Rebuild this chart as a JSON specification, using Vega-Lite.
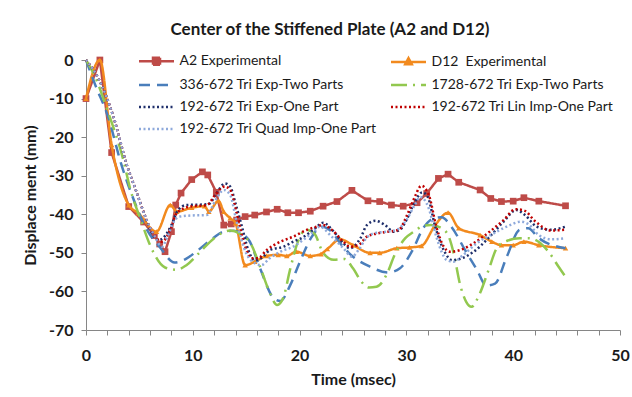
{
  "$schema": "https://vega.github.io/schema/vega-lite/v6.json",
  "autosize": {"type": "none"},
  "width": 534,
  "height": 270,
  "padding": {"left": 86, "top": 60, "right": 12, "bottom": 67},
  "background": "white",
  "title": {
    "text": "Center of the Stiffened Plate (A2 and D12)",
    "font": "Lato",
    "fontSize": 17,
    "fontWeight": "bold",
    "color": "#1a1a1a",
    "anchor": "middle",
    "dx": -23,
    "offset": 13
  },
  "config": {
    "font": "Lato",
    "view": {"stroke": null},
    "axis": {
      "grid": false,
      "domainColor": "#868686",
      "tickColor": "#868686",
      "tickSize": 5,
      "labelFont": "Lato",
      "labelFontSize": 16,
      "labelFontWeight": "bold",
      "labelColor": "#1a1a1a",
      "titleFont": "Lato",
      "titleFontSize": 16,
      "titleFontWeight": "bold",
      "titleColor": "#1a1a1a"
    },
    "legend": {
      "labelFont": "Lato",
      "labelFontSize": 14,
      "labelColor": "#1a1a1a",
      "labelLimit": 300
    }
  },
  "data": {
    "values": [
      {"series": "A2 Experimental", "t": 0, "d": -10},
      {"series": "A2 Experimental", "t": 1.3, "d": 0},
      {"series": "A2 Experimental", "t": 2.4, "d": -24},
      {"series": "A2 Experimental", "t": 4.0, "d": -38},
      {"series": "A2 Experimental", "t": 5.4, "d": -42},
      {"series": "A2 Experimental", "t": 6.4, "d": -45.5},
      {"series": "A2 Experimental", "t": 6.9, "d": -47.7},
      {"series": "A2 Experimental", "t": 7.4, "d": -49.7},
      {"series": "A2 Experimental", "t": 8.0, "d": -44.5},
      {"series": "A2 Experimental", "t": 8.4, "d": -37.6},
      {"series": "A2 Experimental", "t": 8.9, "d": -34.5},
      {"series": "A2 Experimental", "t": 9.9, "d": -31},
      {"series": "A2 Experimental", "t": 10.9, "d": -29},
      {"series": "A2 Experimental", "t": 11.4, "d": -29.8},
      {"series": "A2 Experimental", "t": 12.2, "d": -34.3},
      {"series": "A2 Experimental", "t": 12.9, "d": -42.8},
      {"series": "A2 Experimental", "t": 13.6, "d": -42.5},
      {"series": "A2 Experimental", "t": 14.1, "d": -41.5},
      {"series": "A2 Experimental", "t": 14.9, "d": -40.6},
      {"series": "A2 Experimental", "t": 15.8, "d": -40.2},
      {"series": "A2 Experimental", "t": 16.9, "d": -39.4},
      {"series": "A2 Experimental", "t": 17.9, "d": -38.7},
      {"series": "A2 Experimental", "t": 18.9, "d": -39.6},
      {"series": "A2 Experimental", "t": 19.9, "d": -39.6},
      {"series": "A2 Experimental", "t": 21.0, "d": -39.2},
      {"series": "A2 Experimental", "t": 22.2, "d": -37.9},
      {"series": "A2 Experimental", "t": 23.5, "d": -36.7},
      {"series": "A2 Experimental", "t": 24.9, "d": -33.8},
      {"series": "A2 Experimental", "t": 26.4, "d": -36.5},
      {"series": "A2 Experimental", "t": 27.5, "d": -36.7},
      {"series": "A2 Experimental", "t": 28.6, "d": -37.6},
      {"series": "A2 Experimental", "t": 29.7, "d": -37.9},
      {"series": "A2 Experimental", "t": 31.0, "d": -37},
      {"series": "A2 Experimental", "t": 31.9, "d": -34.6},
      {"series": "A2 Experimental", "t": 33.0, "d": -30.7},
      {"series": "A2 Experimental", "t": 33.9, "d": -29.6},
      {"series": "A2 Experimental", "t": 34.9, "d": -31.7},
      {"series": "A2 Experimental", "t": 36.9, "d": -33.7},
      {"series": "A2 Experimental", "t": 37.9, "d": -35.9},
      {"series": "A2 Experimental", "t": 38.9, "d": -36.7},
      {"series": "A2 Experimental", "t": 40.0, "d": -36.6},
      {"series": "A2 Experimental", "t": 41.0, "d": -35.7},
      {"series": "A2 Experimental", "t": 42.4, "d": -36.6},
      {"series": "A2 Experimental", "t": 44.9, "d": -37.8},

      {"series": "D12\u00a0 Experimental", "t": 0, "d": -10},
      {"series": "D12\u00a0 Experimental", "t": 1.3, "d": 0},
      {"series": "D12\u00a0 Experimental", "t": 2.4, "d": -22},
      {"series": "D12\u00a0 Experimental", "t": 4.0, "d": -37.6},
      {"series": "D12\u00a0 Experimental", "t": 4.9, "d": -39.7},
      {"series": "D12\u00a0 Experimental", "t": 6.6, "d": -44.5},
      {"series": "D12\u00a0 Experimental", "t": 7.9, "d": -37.6},
      {"series": "D12\u00a0 Experimental", "t": 8.5, "d": -39.3},
      {"series": "D12\u00a0 Experimental", "t": 9.9, "d": -38.3},
      {"series": "D12\u00a0 Experimental", "t": 11.1, "d": -37.9},
      {"series": "D12\u00a0 Experimental", "t": 11.5, "d": -39.3},
      {"series": "D12\u00a0 Experimental", "t": 12.4, "d": -36.5},
      {"series": "D12\u00a0 Experimental", "t": 12.9, "d": -39.3},
      {"series": "D12\u00a0 Experimental", "t": 13.5, "d": -41},
      {"series": "D12\u00a0 Experimental", "t": 14.0, "d": -42.3},
      {"series": "D12\u00a0 Experimental", "t": 14.9, "d": -53.2},
      {"series": "D12\u00a0 Experimental", "t": 15.8, "d": -52.3},
      {"series": "D12\u00a0 Experimental", "t": 16.9, "d": -50.8},
      {"series": "D12\u00a0 Experimental", "t": 18.0, "d": -50.5},
      {"series": "D12\u00a0 Experimental", "t": 18.8, "d": -50.8},
      {"series": "D12\u00a0 Experimental", "t": 19.7, "d": -49.7},
      {"series": "D12\u00a0 Experimental", "t": 21.0, "d": -50.8},
      {"series": "D12\u00a0 Experimental", "t": 22.0, "d": -50.3},
      {"series": "D12\u00a0 Experimental", "t": 22.6, "d": -49},
      {"series": "D12\u00a0 Experimental", "t": 23.8, "d": -46.5},
      {"series": "D12\u00a0 Experimental", "t": 25.0, "d": -48},
      {"series": "D12\u00a0 Experimental", "t": 26.6, "d": -50},
      {"series": "D12\u00a0 Experimental", "t": 27.5, "d": -50},
      {"series": "D12\u00a0 Experimental", "t": 29.1, "d": -48.8},
      {"series": "D12\u00a0 Experimental", "t": 30.3, "d": -48.6},
      {"series": "D12\u00a0 Experimental", "t": 31.4, "d": -48.2},
      {"series": "D12\u00a0 Experimental", "t": 32.7, "d": -42.8},
      {"series": "D12\u00a0 Experimental", "t": 33.9, "d": -39.6},
      {"series": "D12\u00a0 Experimental", "t": 34.9, "d": -43.6},
      {"series": "D12\u00a0 Experimental", "t": 36.9, "d": -45.4},
      {"series": "D12\u00a0 Experimental", "t": 38.0, "d": -47.1},
      {"series": "D12\u00a0 Experimental", "t": 38.9, "d": -48},
      {"series": "D12\u00a0 Experimental", "t": 40.0, "d": -48},
      {"series": "D12\u00a0 Experimental", "t": 41.0, "d": -47.1},
      {"series": "D12\u00a0 Experimental", "t": 42.4, "d": -48},
      {"series": "D12\u00a0 Experimental", "t": 44.9, "d": -48.8},

      {"series": "336-672 Tri Exp-Two Parts", "t": 0, "d": 0},
      {"series": "336-672 Tri Exp-Two Parts", "t": 0.8, "d": -6},
      {"series": "336-672 Tri Exp-Two Parts", "t": 2.1, "d": -15},
      {"series": "336-672 Tri Exp-Two Parts", "t": 3.3, "d": -27},
      {"series": "336-672 Tri Exp-Two Parts", "t": 4.3, "d": -35},
      {"series": "336-672 Tri Exp-Two Parts", "t": 5.7, "d": -44},
      {"series": "336-672 Tri Exp-Two Parts", "t": 6.9, "d": -48.5},
      {"series": "336-672 Tri Exp-Two Parts", "t": 8.3, "d": -52.5},
      {"series": "336-672 Tri Exp-Two Parts", "t": 9.4, "d": -51.5},
      {"series": "336-672 Tri Exp-Two Parts", "t": 10.4, "d": -49.5},
      {"series": "336-672 Tri Exp-Two Parts", "t": 11.9, "d": -46.2},
      {"series": "336-672 Tri Exp-Two Parts", "t": 12.9, "d": -44.5},
      {"series": "336-672 Tri Exp-Two Parts", "t": 13.8, "d": -44.3},
      {"series": "336-672 Tri Exp-Two Parts", "t": 15.2, "d": -46.5},
      {"series": "336-672 Tri Exp-Two Parts", "t": 16.3, "d": -54},
      {"series": "336-672 Tri Exp-Two Parts", "t": 17.5, "d": -61.5},
      {"series": "336-672 Tri Exp-Two Parts", "t": 18.2, "d": -62.5},
      {"series": "336-672 Tri Exp-Two Parts", "t": 19.1, "d": -58.5},
      {"series": "336-672 Tri Exp-Two Parts", "t": 20.0, "d": -52.5},
      {"series": "336-672 Tri Exp-Two Parts", "t": 21.1, "d": -46},
      {"series": "336-672 Tri Exp-Two Parts", "t": 22.1, "d": -43.2},
      {"series": "336-672 Tri Exp-Two Parts", "t": 23.0, "d": -44.5},
      {"series": "336-672 Tri Exp-Two Parts", "t": 23.8, "d": -47.5},
      {"series": "336-672 Tri Exp-Two Parts", "t": 24.6, "d": -50},
      {"series": "336-672 Tri Exp-Two Parts", "t": 26.6, "d": -53.6},
      {"series": "336-672 Tri Exp-Two Parts", "t": 28.3, "d": -55.1},
      {"series": "336-672 Tri Exp-Two Parts", "t": 29.4, "d": -54},
      {"series": "336-672 Tri Exp-Two Parts", "t": 30.5, "d": -49.7},
      {"series": "336-672 Tri Exp-Two Parts", "t": 31.6, "d": -43.5},
      {"series": "336-672 Tri Exp-Two Parts", "t": 32.6, "d": -41},
      {"series": "336-672 Tri Exp-Two Parts", "t": 33.3, "d": -40.8},
      {"series": "336-672 Tri Exp-Two Parts", "t": 34.2, "d": -43.2},
      {"series": "336-672 Tri Exp-Two Parts", "t": 35.5, "d": -49.3},
      {"series": "336-672 Tri Exp-Two Parts", "t": 36.6, "d": -54.4},
      {"series": "336-672 Tri Exp-Two Parts", "t": 37.5, "d": -58.5},
      {"series": "336-672 Tri Exp-Two Parts", "t": 38.3, "d": -58},
      {"series": "336-672 Tri Exp-Two Parts", "t": 39.4, "d": -51},
      {"series": "336-672 Tri Exp-Two Parts", "t": 40.6, "d": -44},
      {"series": "336-672 Tri Exp-Two Parts", "t": 41.4, "d": -43.6},
      {"series": "336-672 Tri Exp-Two Parts", "t": 42.4, "d": -46.2},
      {"series": "336-672 Tri Exp-Two Parts", "t": 44.9, "d": -48.8},

      {"series": "1728-672 Tri Exp-Two Parts", "t": 0, "d": 0},
      {"series": "1728-672 Tri Exp-Two Parts", "t": 0.8, "d": -4},
      {"series": "1728-672 Tri Exp-Two Parts", "t": 2.0, "d": -13},
      {"series": "1728-672 Tri Exp-Two Parts", "t": 3.5, "d": -26},
      {"series": "1728-672 Tri Exp-Two Parts", "t": 4.1, "d": -33},
      {"series": "1728-672 Tri Exp-Two Parts", "t": 5.2, "d": -42},
      {"series": "1728-672 Tri Exp-Two Parts", "t": 6.0, "d": -48},
      {"series": "1728-672 Tri Exp-Two Parts", "t": 7.4, "d": -53.8},
      {"series": "1728-672 Tri Exp-Two Parts", "t": 8.5, "d": -54.4},
      {"series": "1728-672 Tri Exp-Two Parts", "t": 9.4, "d": -53.2},
      {"series": "1728-672 Tri Exp-Two Parts", "t": 10.7, "d": -49.7},
      {"series": "1728-672 Tri Exp-Two Parts", "t": 12.0, "d": -46.2},
      {"series": "1728-672 Tri Exp-Two Parts", "t": 13.5, "d": -44.2},
      {"series": "1728-672 Tri Exp-Two Parts", "t": 14.4, "d": -45},
      {"series": "1728-672 Tri Exp-Two Parts", "t": 15.5, "d": -48},
      {"series": "1728-672 Tri Exp-Two Parts", "t": 16.3, "d": -53.6},
      {"series": "1728-672 Tri Exp-Two Parts", "t": 17.1, "d": -59.6},
      {"series": "1728-672 Tri Exp-Two Parts", "t": 17.9, "d": -63.5},
      {"series": "1728-672 Tri Exp-Two Parts", "t": 18.5, "d": -61.4},
      {"series": "1728-672 Tri Exp-Two Parts", "t": 19.1, "d": -54.4},
      {"series": "1728-672 Tri Exp-Two Parts", "t": 19.9, "d": -46.7},
      {"series": "1728-672 Tri Exp-Two Parts", "t": 20.6, "d": -44},
      {"series": "1728-672 Tri Exp-Two Parts", "t": 21.4, "d": -45.1},
      {"series": "1728-672 Tri Exp-Two Parts", "t": 22.2, "d": -50},
      {"series": "1728-672 Tri Exp-Two Parts", "t": 23.2, "d": -51.8},
      {"series": "1728-672 Tri Exp-Two Parts", "t": 24.2, "d": -51.6},
      {"series": "1728-672 Tri Exp-Two Parts", "t": 25.0, "d": -54},
      {"series": "1728-672 Tri Exp-Two Parts", "t": 25.8, "d": -57.5},
      {"series": "1728-672 Tri Exp-Two Parts", "t": 26.5, "d": -59},
      {"series": "1728-672 Tri Exp-Two Parts", "t": 27.2, "d": -58.8},
      {"series": "1728-672 Tri Exp-Two Parts", "t": 28.2, "d": -55.3},
      {"series": "1728-672 Tri Exp-Two Parts", "t": 28.9, "d": -50.5},
      {"series": "1728-672 Tri Exp-Two Parts", "t": 29.9, "d": -46.2},
      {"series": "1728-672 Tri Exp-Two Parts", "t": 30.7, "d": -44.5},
      {"series": "1728-672 Tri Exp-Two Parts", "t": 31.6, "d": -43},
      {"series": "1728-672 Tri Exp-Two Parts", "t": 32.3, "d": -42.8},
      {"series": "1728-672 Tri Exp-Two Parts", "t": 33.3, "d": -43.6},
      {"series": "1728-672 Tri Exp-Two Parts", "t": 34.0, "d": -46},
      {"series": "1728-672 Tri Exp-Two Parts", "t": 34.5, "d": -51},
      {"series": "1728-672 Tri Exp-Two Parts", "t": 35.0, "d": -57.9},
      {"series": "1728-672 Tri Exp-Two Parts", "t": 35.6, "d": -62.7},
      {"series": "1728-672 Tri Exp-Two Parts", "t": 36.1, "d": -64},
      {"series": "1728-672 Tri Exp-Two Parts", "t": 36.8, "d": -61},
      {"series": "1728-672 Tri Exp-Two Parts", "t": 37.7, "d": -54.4},
      {"series": "1728-672 Tri Exp-Two Parts", "t": 38.5, "d": -48.6},
      {"series": "1728-672 Tri Exp-Two Parts", "t": 39.5, "d": -46.8},
      {"series": "1728-672 Tri Exp-Two Parts", "t": 40.6, "d": -46.2},
      {"series": "1728-672 Tri Exp-Two Parts", "t": 41.5, "d": -46.2},
      {"series": "1728-672 Tri Exp-Two Parts", "t": 42.3, "d": -47},
      {"series": "1728-672 Tri Exp-Two Parts", "t": 43.3, "d": -49.7},
      {"series": "1728-672 Tri Exp-Two Parts", "t": 44.3, "d": -53.8},
      {"series": "1728-672 Tri Exp-Two Parts", "t": 44.9, "d": -56.2},

      {"series": "192-672 Tri Exp-One Part", "t": 0, "d": 0},
      {"series": "192-672 Tri Exp-One Part", "t": 1.2, "d": -5},
      {"series": "192-672 Tri Exp-One Part", "t": 2.6, "d": -15},
      {"series": "192-672 Tri Exp-One Part", "t": 3.8, "d": -27},
      {"series": "192-672 Tri Exp-One Part", "t": 4.7, "d": -34},
      {"series": "192-672 Tri Exp-One Part", "t": 5.5, "d": -40.2},
      {"series": "192-672 Tri Exp-One Part", "t": 6.1, "d": -44.5},
      {"series": "192-672 Tri Exp-One Part", "t": 6.8, "d": -46.7},
      {"series": "192-672 Tri Exp-One Part", "t": 7.2, "d": -46.2},
      {"series": "192-672 Tri Exp-One Part", "t": 8.0, "d": -42.8},
      {"series": "192-672 Tri Exp-One Part", "t": 8.6, "d": -39},
      {"series": "192-672 Tri Exp-One Part", "t": 9.4, "d": -37.6},
      {"series": "192-672 Tri Exp-One Part", "t": 10.7, "d": -37.5},
      {"series": "192-672 Tri Exp-One Part", "t": 11.5, "d": -37.3},
      {"series": "192-672 Tri Exp-One Part", "t": 12.3, "d": -34.2},
      {"series": "192-672 Tri Exp-One Part", "t": 13.0, "d": -32},
      {"series": "192-672 Tri Exp-One Part", "t": 13.5, "d": -32.8},
      {"series": "192-672 Tri Exp-One Part", "t": 14.0, "d": -37.2},
      {"series": "192-672 Tri Exp-One Part", "t": 14.6, "d": -43.2},
      {"series": "192-672 Tri Exp-One Part", "t": 15.2, "d": -49.3},
      {"series": "192-672 Tri Exp-One Part", "t": 15.8, "d": -51.9},
      {"series": "192-672 Tri Exp-One Part", "t": 16.6, "d": -51},
      {"series": "192-672 Tri Exp-One Part", "t": 17.2, "d": -49.3},
      {"series": "192-672 Tri Exp-One Part", "t": 18.5, "d": -48.4},
      {"series": "192-672 Tri Exp-One Part", "t": 19.4, "d": -47.1},
      {"series": "192-672 Tri Exp-One Part", "t": 20.3, "d": -46},
      {"series": "192-672 Tri Exp-One Part", "t": 21.3, "d": -44},
      {"series": "192-672 Tri Exp-One Part", "t": 22.2, "d": -42.2},
      {"series": "192-672 Tri Exp-One Part", "t": 23.2, "d": -44.5},
      {"series": "192-672 Tri Exp-One Part", "t": 24.1, "d": -47.5},
      {"series": "192-672 Tri Exp-One Part", "t": 24.7, "d": -48.8},
      {"series": "192-672 Tri Exp-One Part", "t": 25.7, "d": -46.2},
      {"series": "192-672 Tri Exp-One Part", "t": 26.3, "d": -42.8},
      {"series": "192-672 Tri Exp-One Part", "t": 27.1, "d": -41.7},
      {"series": "192-672 Tri Exp-One Part", "t": 28.0, "d": -42.8},
      {"series": "192-672 Tri Exp-One Part", "t": 28.8, "d": -44.5},
      {"series": "192-672 Tri Exp-One Part", "t": 29.4, "d": -44},
      {"series": "192-672 Tri Exp-One Part", "t": 30.0, "d": -41.5},
      {"series": "192-672 Tri Exp-One Part", "t": 30.8, "d": -36.7},
      {"series": "192-672 Tri Exp-One Part", "t": 31.5, "d": -34.3},
      {"series": "192-672 Tri Exp-One Part", "t": 32.0, "d": -35.5},
      {"series": "192-672 Tri Exp-One Part", "t": 32.7, "d": -43.2},
      {"series": "192-672 Tri Exp-One Part", "t": 33.5, "d": -49.3},
      {"series": "192-672 Tri Exp-One Part", "t": 34.3, "d": -51.9},
      {"series": "192-672 Tri Exp-One Part", "t": 35.2, "d": -51.4},
      {"series": "192-672 Tri Exp-One Part", "t": 36.3, "d": -49.7},
      {"series": "192-672 Tri Exp-One Part", "t": 37.8, "d": -45.8},
      {"series": "192-672 Tri Exp-One Part", "t": 39.1, "d": -41.9},
      {"series": "192-672 Tri Exp-One Part", "t": 40.3, "d": -38.9},
      {"series": "192-672 Tri Exp-One Part", "t": 41.1, "d": -40.2},
      {"series": "192-672 Tri Exp-One Part", "t": 42.2, "d": -43.2},
      {"series": "192-672 Tri Exp-One Part", "t": 43.5, "d": -44},
      {"series": "192-672 Tri Exp-One Part", "t": 44.9, "d": -43.2},

      {"series": "192-672 Tri Lin Imp-One Part", "t": 0, "d": 0},
      {"series": "192-672 Tri Lin Imp-One Part", "t": 1.2, "d": -5},
      {"series": "192-672 Tri Lin Imp-One Part", "t": 2.6, "d": -15},
      {"series": "192-672 Tri Lin Imp-One Part", "t": 3.8, "d": -27},
      {"series": "192-672 Tri Lin Imp-One Part", "t": 4.7, "d": -34},
      {"series": "192-672 Tri Lin Imp-One Part", "t": 5.6, "d": -41},
      {"series": "192-672 Tri Lin Imp-One Part", "t": 6.5, "d": -45.8},
      {"series": "192-672 Tri Lin Imp-One Part", "t": 7.1, "d": -47.1},
      {"series": "192-672 Tri Lin Imp-One Part", "t": 7.9, "d": -44},
      {"series": "192-672 Tri Lin Imp-One Part", "t": 8.5, "d": -39.7},
      {"series": "192-672 Tri Lin Imp-One Part", "t": 9.7, "d": -38},
      {"series": "192-672 Tri Lin Imp-One Part", "t": 11.3, "d": -37.6},
      {"series": "192-672 Tri Lin Imp-One Part", "t": 12.2, "d": -34.6},
      {"series": "192-672 Tri Lin Imp-One Part", "t": 13.0, "d": -32.8},
      {"series": "192-672 Tri Lin Imp-One Part", "t": 13.5, "d": -33.7},
      {"series": "192-672 Tri Lin Imp-One Part", "t": 14.1, "d": -39.7},
      {"series": "192-672 Tri Lin Imp-One Part", "t": 14.9, "d": -48.4},
      {"series": "192-672 Tri Lin Imp-One Part", "t": 15.5, "d": -51.4},
      {"series": "192-672 Tri Lin Imp-One Part", "t": 16.1, "d": -51.4},
      {"series": "192-672 Tri Lin Imp-One Part", "t": 16.9, "d": -49.3},
      {"series": "192-672 Tri Lin Imp-One Part", "t": 18.2, "d": -47.1},
      {"series": "192-672 Tri Lin Imp-One Part", "t": 19.4, "d": -45.8},
      {"series": "192-672 Tri Lin Imp-One Part", "t": 20.7, "d": -44},
      {"series": "192-672 Tri Lin Imp-One Part", "t": 21.4, "d": -43.4},
      {"series": "192-672 Tri Lin Imp-One Part", "t": 22.2, "d": -42.8},
      {"series": "192-672 Tri Lin Imp-One Part", "t": 23.0, "d": -44},
      {"series": "192-672 Tri Lin Imp-One Part", "t": 24.1, "d": -47.1},
      {"series": "192-672 Tri Lin Imp-One Part", "t": 24.7, "d": -48.4},
      {"series": "192-672 Tri Lin Imp-One Part", "t": 25.5, "d": -48},
      {"series": "192-672 Tri Lin Imp-One Part", "t": 26.3, "d": -45.8},
      {"series": "192-672 Tri Lin Imp-One Part", "t": 27.2, "d": -45},
      {"series": "192-672 Tri Lin Imp-One Part", "t": 28.3, "d": -44.5},
      {"series": "192-672 Tri Lin Imp-One Part", "t": 29.3, "d": -44},
      {"series": "192-672 Tri Lin Imp-One Part", "t": 30.0, "d": -40.6},
      {"series": "192-672 Tri Lin Imp-One Part", "t": 30.8, "d": -35.4},
      {"series": "192-672 Tri Lin Imp-One Part", "t": 31.4, "d": -32.6},
      {"series": "192-672 Tri Lin Imp-One Part", "t": 32.1, "d": -35},
      {"series": "192-672 Tri Lin Imp-One Part", "t": 32.8, "d": -43.2},
      {"series": "192-672 Tri Lin Imp-One Part", "t": 33.5, "d": -48.4},
      {"series": "192-672 Tri Lin Imp-One Part", "t": 34.1, "d": -49.7},
      {"series": "192-672 Tri Lin Imp-One Part", "t": 35.0, "d": -49.3},
      {"series": "192-672 Tri Lin Imp-One Part", "t": 36.3, "d": -47.5},
      {"series": "192-672 Tri Lin Imp-One Part", "t": 37.8, "d": -44.5},
      {"series": "192-672 Tri Lin Imp-One Part", "t": 39.1, "d": -41.5},
      {"series": "192-672 Tri Lin Imp-One Part", "t": 40.2, "d": -38.7},
      {"series": "192-672 Tri Lin Imp-One Part", "t": 41.0, "d": -39},
      {"series": "192-672 Tri Lin Imp-One Part", "t": 42.1, "d": -41.9},
      {"series": "192-672 Tri Lin Imp-One Part", "t": 43.5, "d": -44.2},
      {"series": "192-672 Tri Lin Imp-One Part", "t": 44.9, "d": -44},

      {"series": "192-672 Tri Quad Imp-One Part", "t": 0, "d": 0},
      {"series": "192-672 Tri Quad Imp-One Part", "t": 1.2, "d": -5},
      {"series": "192-672 Tri Quad Imp-One Part", "t": 2.6, "d": -15},
      {"series": "192-672 Tri Quad Imp-One Part", "t": 3.8, "d": -27},
      {"series": "192-672 Tri Quad Imp-One Part", "t": 4.7, "d": -34},
      {"series": "192-672 Tri Quad Imp-One Part", "t": 5.6, "d": -41},
      {"series": "192-672 Tri Quad Imp-One Part", "t": 6.5, "d": -46},
      {"series": "192-672 Tri Quad Imp-One Part", "t": 7.1, "d": -48.4},
      {"series": "192-672 Tri Quad Imp-One Part", "t": 7.6, "d": -46},
      {"series": "192-672 Tri Quad Imp-One Part", "t": 8.2, "d": -42},
      {"series": "192-672 Tri Quad Imp-One Part", "t": 8.8, "d": -40.6},
      {"series": "192-672 Tri Quad Imp-One Part", "t": 10.0, "d": -40.3},
      {"series": "192-672 Tri Quad Imp-One Part", "t": 11.3, "d": -40.2},
      {"series": "192-672 Tri Quad Imp-One Part", "t": 12.2, "d": -36},
      {"series": "192-672 Tri Quad Imp-One Part", "t": 12.9, "d": -33.7},
      {"series": "192-672 Tri Quad Imp-One Part", "t": 13.5, "d": -35},
      {"series": "192-672 Tri Quad Imp-One Part", "t": 14.1, "d": -41.9},
      {"series": "192-672 Tri Quad Imp-One Part", "t": 15.0, "d": -50.1},
      {"series": "192-672 Tri Quad Imp-One Part", "t": 15.8, "d": -52.7},
      {"series": "192-672 Tri Quad Imp-One Part", "t": 16.4, "d": -53.2},
      {"series": "192-672 Tri Quad Imp-One Part", "t": 17.2, "d": -51.4},
      {"series": "192-672 Tri Quad Imp-One Part", "t": 18.2, "d": -49.7},
      {"series": "192-672 Tri Quad Imp-One Part", "t": 19.4, "d": -48.4},
      {"series": "192-672 Tri Quad Imp-One Part", "t": 20.4, "d": -46.5},
      {"series": "192-672 Tri Quad Imp-One Part", "t": 21.3, "d": -44.5},
      {"series": "192-672 Tri Quad Imp-One Part", "t": 21.9, "d": -43.2},
      {"series": "192-672 Tri Quad Imp-One Part", "t": 23.0, "d": -45.8},
      {"series": "192-672 Tri Quad Imp-One Part", "t": 24.1, "d": -48.8},
      {"series": "192-672 Tri Quad Imp-One Part", "t": 24.9, "d": -51},
      {"series": "192-672 Tri Quad Imp-One Part", "t": 25.5, "d": -49.3},
      {"series": "192-672 Tri Quad Imp-One Part", "t": 26.3, "d": -46},
      {"series": "192-672 Tri Quad Imp-One Part", "t": 27.2, "d": -44.8},
      {"series": "192-672 Tri Quad Imp-One Part", "t": 28.2, "d": -44.5},
      {"series": "192-672 Tri Quad Imp-One Part", "t": 29.1, "d": -44},
      {"series": "192-672 Tri Quad Imp-One Part", "t": 30.0, "d": -41.5},
      {"series": "192-672 Tri Quad Imp-One Part", "t": 30.8, "d": -37.5},
      {"series": "192-672 Tri Quad Imp-One Part", "t": 31.3, "d": -35.5},
      {"series": "192-672 Tri Quad Imp-One Part", "t": 32.1, "d": -38.5},
      {"series": "192-672 Tri Quad Imp-One Part", "t": 32.8, "d": -45.8},
      {"series": "192-672 Tri Quad Imp-One Part", "t": 33.8, "d": -51.9},
      {"series": "192-672 Tri Quad Imp-One Part", "t": 34.4, "d": -52.3},
      {"series": "192-672 Tri Quad Imp-One Part", "t": 35.3, "d": -50.6},
      {"series": "192-672 Tri Quad Imp-One Part", "t": 36.6, "d": -47.5},
      {"series": "192-672 Tri Quad Imp-One Part", "t": 38.2, "d": -44.9},
      {"series": "192-672 Tri Quad Imp-One Part", "t": 39.7, "d": -42.8},
      {"series": "192-672 Tri Quad Imp-One Part", "t": 40.7, "d": -41.9},
      {"series": "192-672 Tri Quad Imp-One Part", "t": 41.4, "d": -42.5},
      {"series": "192-672 Tri Quad Imp-One Part", "t": 42.4, "d": -45.4},
      {"series": "192-672 Tri Quad Imp-One Part", "t": 43.6, "d": -46.5},
      {"series": "192-672 Tri Quad Imp-One Part", "t": 44.9, "d": -46.2}
    ]
  },
  "encoding": {
    "x": {
      "field": "t",
      "type": "quantitative",
      "title": "Time (msec)",
      "scale": {"domain": [0, 50], "nice": false, "zero": false},
      "axis": {
        "values": [0, 2, 4, 6, 8, 10, 12, 14, 16, 18, 20, 22, 24, 26, 28, 30, 32, 34, 36, 38, 40, 42, 44, 46, 48, 50],
        "labelExpr": "datum.value % 10 === 0 ? datum.value + '' : ''",
        "labelPadding": 12,
        "labelFlush": false,
        "labelOverlap": false,
        "titlePadding": 8
      }
    },
    "y": {
      "field": "d",
      "type": "quantitative",
      "title": "Displace ment (mm)",
      "scale": {"domain": [-70, 0], "nice": false, "zero": false},
      "axis": {
        "values": [-70, -60, -50, -40, -30, -20, -10, 0],
        "labelExpr": "datum.value + ''",
        "labelPadding": 8,
        "titlePadding": 10
      }
    }
  },
  "layer": [
    {
      "transform": [{"filter": "datum.series === 'A2 Experimental'"}],
      "mark": {"type": "line", "strokeWidth": 2.5, "interpolate": "linear"},
      "encoding": {
        "color": {
          "field": "series",
          "type": "nominal",
          "scale": {
            "domain": ["A2 Experimental", "D12\u00a0 Experimental", "336-672 Tri Exp-Two Parts", "1728-672 Tri Exp-Two Parts", "192-672 Tri Exp-One Part", "192-672 Tri Lin Imp-One Part", "192-672 Tri Quad Imp-One Part"],
            "range": ["#BE4B48", "#F28A1E", "#4A7EBB", "#92C84F", "#1F2F6B", "#C00000", "#8EA9DB"]
          },
          "legend": {
            "title": null,
            "orient": "none",
            "direction": "horizontal",
            "legendX": 63.5,
            "legendY": -6,
            "columns": 2,
            "columnPadding": 8,
            "rowPadding": 8,
            "symbolSize": 100,
            "symbolStrokeWidth": 2.5,
            "labelOffset": 16,
            "encode": {
              "symbols": {
                "update": {
                  "shape": {"signal": "datum.value === 'A2 Experimental' ? 'M-3.5,0H3.5M-0.7,-0.7H0.7V0.7H-0.7Z' : datum.value === 'D12\u00a0 Experimental' ? 'M-3.5,0H3.5M0,-0.75L0.65,0.45H-0.65Z' : 'M-3.5,0H3.5'"},
                  "fill": {"signal": "datum.value === 'A2 Experimental' ? '#BE4B48' : datum.value === 'D12\u00a0 Experimental' ? '#F28A1E' : 'transparent'"}
                }
              }
            }
          }
        },
        "strokeDash": {
          "field": "series",
          "type": "nominal",
          "scale": {
            "domain": ["A2 Experimental", "D12\u00a0 Experimental", "336-672 Tri Exp-Two Parts", "1728-672 Tri Exp-Two Parts", "192-672 Tri Exp-One Part", "192-672 Tri Lin Imp-One Part", "192-672 Tri Quad Imp-One Part"],
            "range": [[1, 0], [1, 0], [11, 7], [16, 6, 2, 6], [2, 2.5], [2, 2.5], [2, 2.5]]
          }
        }
      }
    },
    {
      "transform": [{"filter": "datum.series === 'A2 Experimental' || datum.series === 'D12\u00a0 Experimental'"}],
      "mark": {"type": "point", "filled": true, "opacity": 1},
      "encoding": {
        "shape": {
          "field": "series",
          "type": "nominal",
          "scale": {"domain": ["A2 Experimental", "D12\u00a0 Experimental"], "range": ["square", "triangle-up"]},
          "legend": null
        },
        "fill": {
          "field": "series",
          "type": "nominal",
          "scale": {"domain": ["A2 Experimental", "D12\u00a0 Experimental"], "range": ["#BE4B48", "#F28A1E"]},
          "legend": null
        },
        "size": {
          "field": "series",
          "type": "nominal",
          "scale": {"domain": ["A2 Experimental", "D12\u00a0 Experimental"], "range": [45, 30]},
          "legend": null
        }
      }
    },
    {
      "transform": [{"filter": "datum.series !== 'A2 Experimental'"}],
      "mark": {"type": "line", "strokeWidth": 2.5, "interpolate": "monotone"},
      "encoding": {
        "color": {"field": "series", "type": "nominal"},
        "strokeDash": {"field": "series", "type": "nominal"},
        "order": {"field": "t", "type": "quantitative"}
      }
    }
  ]
}
